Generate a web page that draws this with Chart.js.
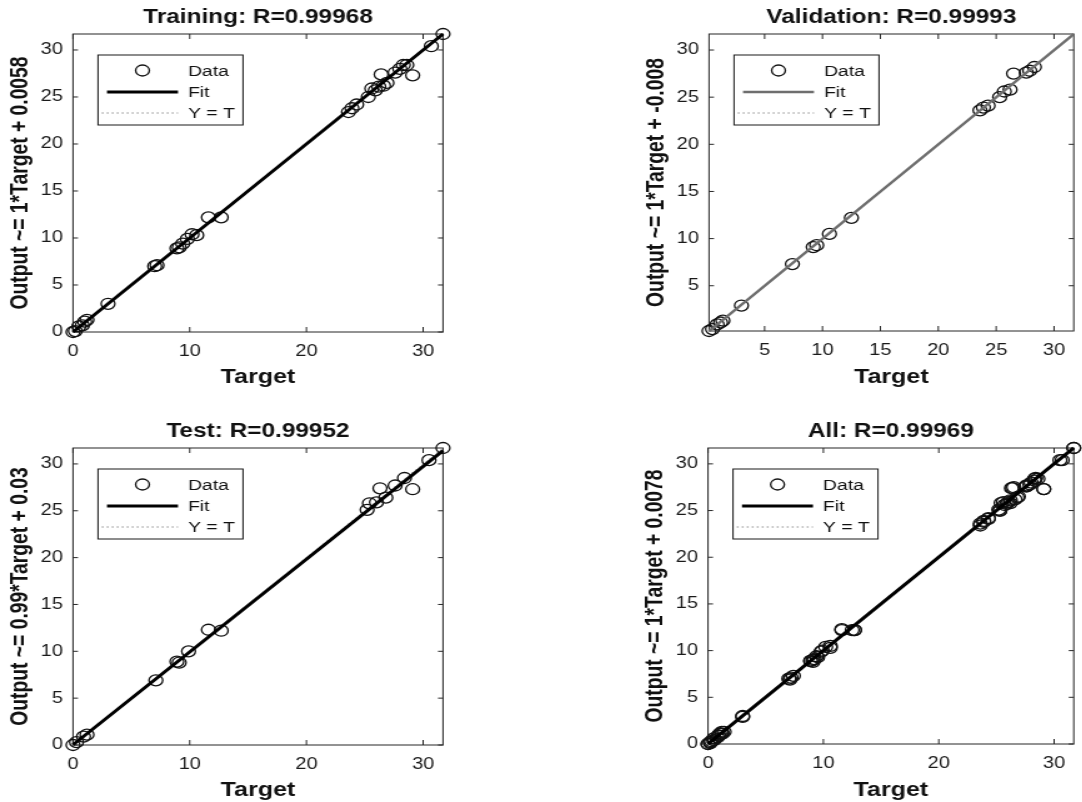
<!DOCTYPE html>
<html>
<head>
<meta charset="utf-8">
<script src="https://cdn.jsdelivr.net/npm/chart.js@4.4.1/dist/chart.umd.min.js"></script>
<style>
html,body{margin:0;padding:0;background:#fff;width:1082px;height:802px;overflow:hidden;position:relative}
.q{position:absolute;transform-origin:0 0;transform:scaleX(1.25)}
canvas{display:block}
</style>
</head>
<body>
<div class="q" style="left:0px;top:0px"><canvas id="c0" width="433" height="389" style="width:433px;height:389px"></canvas></div>
<div class="q" style="left:541px;top:0px"><canvas id="c1" width="433" height="389" style="width:433px;height:389px"></canvas></div>
<div class="q" style="left:0px;top:414px"><canvas id="c2" width="433" height="388" style="width:433px;height:388px"></canvas></div>
<div class="q" style="left:541px;top:414px"><canvas id="c3" width="433" height="388" style="width:433px;height:388px"></canvas></div>
<script>
// ---------------- DATA ----------------
const panelNames = ['Training', 'Validation', 'Test', 'All'];
const rValues = ['0.99968', '0.99993', '0.99952', '0.99969'];
const fitSlope = [1, 1, 0.99, 1];
const fitIntercept = [0.0058, -0.008, 0.03, 0.0078];

const trainTarget = [0, 0.2, 0.5, 0.8, 1.0, 1.2, 3.0, 7.0, 7.2, 8.9, 9.1, 9.4, 9.8, 10.2, 10.6, 11.6, 12.7, 23.6, 23.9, 24.3, 25.3, 25.6, 25.9, 26.2, 26.4, 26.6, 26.9, 27.6, 28.0, 28.3, 28.6, 29.1, 30.7, 31.7];
const trainOutput = [0, 0.1, 0.6, 0.7, 1.1, 1.3, 3.0, 7.0, 7.1, 8.9, 9.0, 9.4, 9.9, 10.4, 10.3, 12.2, 12.2, 23.4, 23.8, 24.2, 25.0, 25.9, 25.7, 26.1, 27.4, 26.2, 26.5, 27.6, 28.0, 28.4, 28.4, 27.3, 30.4, 31.7];

const valTarget = [0.2, 0.5, 0.9, 1.2, 1.4, 3.0, 7.4, 9.2, 9.5, 10.6, 12.5, 23.6, 23.9, 24.3, 25.3, 25.7, 26.2, 26.5, 27.6, 27.9, 28.3];
const valOutput = [0.2, 0.4, 0.9, 1.1, 1.3, 2.9, 7.3, 9.1, 9.3, 10.5, 12.2, 23.6, 23.9, 24.1, 25.0, 25.6, 25.8, 27.5, 27.6, 27.8, 28.2];

const testTarget = [0, 0.3, 0.9, 1.2, 7.1, 8.9, 9.1, 9.9, 11.6, 12.7, 25.2, 25.4, 26.0, 26.3, 26.8, 27.6, 28.4, 29.1, 30.5, 31.7];
const testOutput = [0, 0.3, 0.9, 1.1, 6.9, 8.9, 8.8, 10.0, 12.3, 12.2, 25.1, 25.8, 25.9, 27.4, 26.4, 27.7, 28.5, 27.3, 30.4, 31.7];

const allTarget = trainTarget.concat(valTarget, testTarget);
const allOutput = trainOutput.concat(valOutput, testOutput);

const axisMin = [0, 0.2, 0, 0];
const axisMax = [31.7, 31.7, 31.7, 31.7];
const xTicksFull = [0, 10, 20, 30];
const xTicksVal = [5, 10, 15, 20, 25, 30];
const yTicksFull = [0, 5, 10, 15, 20, 25, 30];
const yTicksVal = [5, 10, 15, 20, 25, 30];

// ---------------- LAYOUT / STYLE ----------------
const FONT = "'Liberation Sans', Arial, Helvetica, sans-serif";
const S = 1.25;          // horizontal stretch of the reference figure
const CW = 433;          // canvas width (before stretch)
const YAXIS_W = 58.4;
const layout = [
  {pageLeft: 0,   pageTop: 0,   h: 389, L: 73,  R: 443,  B: 332},
  {pageLeft: 541, pageTop: 0,   h: 389, L: 709, R: 1078, B: 331},
  {pageLeft: 0,   pageTop: 414, h: 388, L: 73,  R: 443,  B: 745},
  {pageLeft: 541, pageTop: 414, h: 388, L: 708, R: 1078, B: 744}
];
const fitColors = ['#000000', '#6e6e6e', '#000000', '#000000'];
const fitWidths = [3, 2.4, 3, 3];

const targets = [trainTarget, valTarget, testTarget, allTarget];
const outputs = [trainOutput, valOutput, testOutput, allOutput];
const xTicksArr = [xTicksFull, xTicksVal, xTicksFull, xTicksFull];
const yTicksArr = [yTicksFull, yTicksVal, yTicksFull, yTicksFull];

const axesBoxPlugin = {
  id: 'axesBox',
  beforeDatasetsDraw(chart) {
    const {ctx, chartArea: a, scales: {x, y}} = chart;
    ctx.save();
    ctx.strokeStyle = '#262626';
    ctx.lineWidth = 1;
    ctx.strokeRect(a.left, a.top, a.right - a.left, a.bottom - a.top);
    ctx.beginPath();
    x.ticks.forEach(t => {
      const px = x.getPixelForValue(t.value);
      ctx.moveTo(px, a.bottom); ctx.lineTo(px, a.bottom - 5);
      ctx.moveTo(px, a.top); ctx.lineTo(px, a.top + 5);
    });
    y.ticks.forEach(t => {
      const py = y.getPixelForValue(t.value);
      ctx.moveTo(a.left, py); ctx.lineTo(a.left + 4, py);
      ctx.moveTo(a.right, py); ctx.lineTo(a.right - 4, py);
    });
    ctx.stroke();
    ctx.restore();
  }
};

const legendBoxPlugin = {
  id: 'matlabLegend',
  afterDatasetsDraw(chart) {
    const {ctx, chartArea: a} = chart;
    const ds = chart.data.datasets;
    const bx = a.left + 20, by = a.top + 21, bw = 116, bh = 70;
    ctx.save();
    ctx.fillStyle = '#ffffff';
    ctx.fillRect(bx, by, bw, bh);
    ctx.strokeStyle = '#1a1a1a';
    ctx.lineWidth = 1;
    ctx.strokeRect(bx, by, bw, bh);
    const rows = [15.5, 37, 58];
    ds.forEach((d, i) => {
      const yy = by + rows[i];
      ctx.save();
      if (i === 0) {
        ctx.beginPath();
        ctx.strokeStyle = d.pointBorderColor;
        ctx.lineWidth = d.pointBorderWidth;
        ctx.arc(bx + 35.6, yy, d.pointRadius, 0, Math.PI * 2);
        ctx.stroke();
      } else {
        ctx.beginPath();
        ctx.strokeStyle = d.borderColor;
        ctx.lineWidth = d.borderWidth;
        ctx.setLineDash(d.borderDash || []);
        ctx.moveTo(i === 2 ? bx + 3 : bx + 7.2, yy);
        ctx.lineTo(bx + 64, yy);
        ctx.stroke();
      }
      ctx.restore();
      ctx.font = '15.5px ' + FONT;
      ctx.fillStyle = '#111';
      ctx.textBaseline = 'middle';
      ctx.textAlign = 'left';
      ctx.fillText(d.label, bx + 72, yy + 1);
    });
    ctx.restore();
  }
};

for (let i = 0; i < 4; i++) {
  const L = layout[i];
  const areaL = (L.L - L.pageLeft) / S;
  const areaR = (L.R - L.pageLeft) / S;
  const padLeft = areaL - YAXIS_W;
  const padRight = CW - areaR;
  const xAxisH = L.h - (L.B - L.pageTop);
  const mn = axisMin[i], mx = axisMax[i];
  const m = fitSlope[i], b = fitIntercept[i];
  const pts = targets[i].map((t, k) => ({x: t, y: outputs[i][k]}));
  const fitPts = [{x: mn, y: m * mn + b}, {x: mx, y: m * mx + b}];
  const ytPts = [{x: mn, y: mn}, {x: mx, y: mx}];

  new Chart(document.getElementById('c' + i), {
    type: 'scatter',
    data: {
      datasets: [
        {label: 'Data', data: pts, showLine: false, pointStyle: 'circle', pointRadius: 5.5,
         pointBorderWidth: 1.3, pointBorderColor: '#111111', pointBackgroundColor: 'rgba(0,0,0,0)',
         order: 1, clip: false},
        {label: 'Fit', data: fitPts, showLine: true, borderColor: fitColors[i], borderWidth: fitWidths[i],
         pointRadius: 0, order: 0, clip: false},
        {label: 'Y = T', data: ytPts, showLine: true, borderColor: '#8c8c8c', borderWidth: 1,
         borderDash: [1.5, 2.5], pointRadius: 0, order: 2, clip: false}
      ]
    },
    options: {
      responsive: false,
      animation: false,
      events: [],
      layout: {padding: {left: padLeft, right: padRight, top: 0, bottom: 0}},
      plugins: {
        legend: {display: false},
        tooltip: {enabled: false},
        title: {
          display: true, fullSize: false,
          text: panelNames[i] + ': R=' + rValues[i],
          font: {family: FONT, size: 19.5, weight: 'bold'},
          color: '#111',
          padding: {top: 5.5, bottom: 5.1}
        }
      },
      scales: {
        x: {
          type: 'linear', position: 'bottom', min: mn, max: mx,
          grid: {display: false, drawTicks: false},
          border: {display: false},
          ticks: {font: {family: FONT, size: 16}, color: '#1a1a1a', padding: 10, maxRotation: 0, autoSkip: false},
          afterBuildTicks: s => { s.ticks = xTicksArr[i].map(v => ({value: v})); },
          afterFit: s => { s.height = xAxisH; },
          title: {display: true, text: 'Target', font: {family: FONT, size: 20, weight: 'bold'}, color: '#111',
                  padding: {top: 0, bottom: 0}}
        },
        y: {
          type: 'linear', position: 'left', min: mn, max: mx,
          grid: {display: false, drawTicks: false},
          border: {display: false},
          ticks: {font: {family: FONT, size: 16}, color: '#1a1a1a', padding: 8, autoSkip: false},
          afterBuildTicks: s => { s.ticks = yTicksArr[i].map(v => ({value: v})); },
          afterFit: s => { s.width = YAXIS_W; },
          title: {display: true, text: 'Output ~= ' + m + '*Target + ' + b,
                  font: {family: FONT, size: 19.3, weight: 'bold'}, color: '#111',
                  padding: {top: 5.2, bottom: 0}}
        }
      }
    },
    plugins: [axesBoxPlugin, legendBoxPlugin]
  });
}
</script>
</body>
</html>
